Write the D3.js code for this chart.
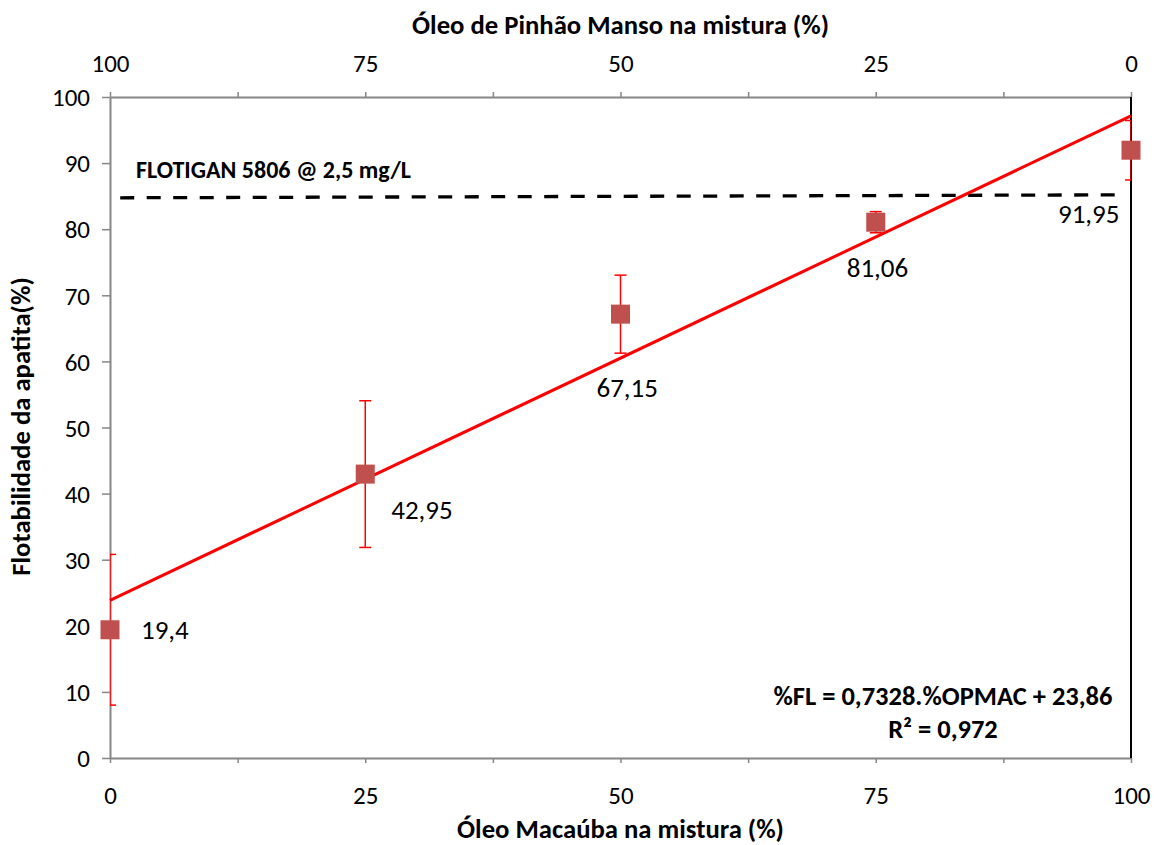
<!DOCTYPE html>
<html>
<head>
<meta charset="utf-8">
<script src="https://cdn.jsdelivr.net/npm/d3@7"></script>
<style>
  body { margin: 0; background: #fff; }
  text { font-family: Carlito, Calibri, Lato, "Open Sans", sans-serif; }
</style>
</head>
<body>
<div id="chart"></div>
<script>
// data
const macauba = [0, 25, 50, 75, 100]
const flotab = [19.4, 42.95, 67.15, 81.06, 91.95]
const errs = [11.4, 11.1, 5.9, 1.6, 4.5]
const dataLabels = ['19,4', '42,95', '67,15', '81,06', '91,95']
const bottomTicks = [0, 25, 50, 75, 100]
const topTicks = [100, 75, 50, 25, 0]
const yTicks = [0, 10, 20, 30, 40, 50, 60, 70, 80, 90, 100]
const minorTicks = [0, 12.5, 25, 37.5, 50, 62.5, 75, 87.5, 100]
// reference line (FLOTIGAN)
const refX = [1, 99.4]
const refY = [84.75, 85.2]
// trend %FL = 0,7328.%OPMAC + 23,86
const slope = 0.7328
const intercept = 23.86

const width = 1154
const height = 845
const margin = { top: 97, right: 23, bottom: 87, left: 110 }
const plotW = width - margin.left - margin.right
const plotH = height - margin.top - margin.bottom

const gray = '#868686'
const markerColor = '#c0504d'

const svg = d3.select('#chart').append('svg')
  .attr('width', width)
  .attr('height', height)

const x = d3.scaleLinear().domain([0, 100]).range([0, plotW])
const xTop = d3.scaleLinear().domain([100, 0]).range([0, plotW])
const y = d3.scaleLinear().domain([0, 100]).range([plotH, 0])

const g = svg.append('g').attr('transform', `translate(${margin.left},${margin.top})`)

svg.append('defs').append('clipPath').attr('id', 'plot-clip')
  .append('rect').attr('x', 0).attr('y', 0).attr('width', plotW).attr('height', plotH)

// axes
const leftAxis = g.append('g')
  .call(d3.axisLeft(y).tickValues(yTicks).tickSize(8).tickSizeOuter(0))
leftAxis.selectAll('text').attr('font-size', 25).attr('fill', '#000').attr('x', -20).attr('dy', '0.35em')

const bottomAxis = g.append('g').attr('transform', `translate(0,${plotH})`)
  .call(d3.axisBottom(x).tickValues(minorTicks).tickSize(5).tickSizeOuter(0).tickFormat(d => bottomTicks.includes(d) ? d : ''))
bottomAxis.selectAll('text').attr('font-size', 25).attr('fill', '#000').attr('y', 37).attr('dy', '0.35em')

const topAxis = g.append('g')
  .call(d3.axisTop(xTop).tickValues(minorTicks).tickSize(5).tickSizeOuter(0).tickFormat(d => topTicks.includes(d) ? d : ''))
topAxis.selectAll('text').attr('font-size', 25).attr('fill', '#000').attr('y', -34).attr('dy', '0.35em')

g.selectAll('.domain').attr('stroke', gray).attr('stroke-width', 2)
g.selectAll('.tick line').attr('stroke', gray).attr('stroke-width', 1.5)
g.selectAll('.tick text').attr('font-family', 'Carlito, Calibri, Lato, sans-serif')

// right axis (black)
g.append('line')
  .attr('x1', plotW).attr('x2', plotW)
  .attr('y1', 0).attr('y2', plotH)
  .attr('stroke', '#000').attr('stroke-width', 2)

// reference dashed line
g.append('line')
  .attr('x1', x(refX[0])).attr('y1', y(refY[0]))
  .attr('x2', x(refX[1])).attr('y2', y(refY[1]))
  .attr('stroke', '#000').attr('stroke-width', 3.3)
  .attr('stroke-dasharray', '14,12.5')

g.append('text')
  .attr('x', 26).attr('y', 81)
  .attr('font-size', 24).attr('font-weight', 'bold')
  .text('FLOTIGAN 5806 @ 2,5 mg/L')

// trend line
g.append('line')
  .attr('x1', x(0)).attr('y1', y(intercept))
  .attr('x2', x(100)).attr('y2', y(intercept + slope * 100))
  .attr('stroke', '#ff0000').attr('stroke-width', 3)

// error bars
const eb = g.append('g').attr('clip-path', 'url(#plot-clip)')
  .selectAll('g').data(macauba).join('g')
eb.append('line')
  .attr('x1', d => x(d)).attr('x2', d => x(d))
  .attr('y1', (d, i) => y(flotab[i] + errs[i]))
  .attr('y2', (d, i) => y(flotab[i] - errs[i]))
  .attr('stroke', '#ff0000').attr('stroke-width', 1.5)
eb.selectAll('line.cap')
  .data((d, i) => [{ x: d, v: flotab[i] + errs[i] }, { x: d, v: flotab[i] - errs[i] }])
  .join('line').attr('class', 'cap')
  .attr('x1', d => x(d.x) - 6).attr('x2', d => x(d.x) + 6)
  .attr('y1', d => y(d.v)).attr('y2', d => y(d.v))
  .attr('stroke', '#ff0000').attr('stroke-width', 1.5)

// markers
g.append('g').selectAll('rect').data(macauba).join('rect')
  .attr('x', d => x(d) - 9.5)
  .attr('y', (d, i) => y(flotab[i]) - 9.5)
  .attr('width', 19).attr('height', 19)
  .attr('fill', markerColor)

// data labels
const labelOffsets = [[31, 9], [26, 45], [-24, 83], [-29, 55], [-73, 73]]
g.append('g').selectAll('text').data(macauba).join('text')
  .attr('x', (d, i) => x(d) + labelOffsets[i][0])
  .attr('y', (d, i) => y(flotab[i]) + labelOffsets[i][1])
  .attr('font-size', 27)
  .text((d, i) => dataLabels[i])

// equation
g.append('text')
  .attr('x', 833).attr('y', 608)
  .attr('text-anchor', 'middle')
  .attr('font-size', 26.5).attr('font-weight', 'bold')
  .text('%FL = 0,7328.%OPMAC + 23,86')
g.append('text')
  .attr('x', 833).attr('y', 641)
  .attr('text-anchor', 'middle')
  .attr('font-size', 26.5).attr('font-weight', 'bold')
  .text('R² = 0,972')

// axis titles
svg.append('text')
  .attr('x', margin.left + plotW / 2).attr('y', 838)
  .attr('text-anchor', 'middle')
  .attr('font-size', 26.7).attr('font-weight', 'bold')
  .text('Óleo Macaúba na mistura (%)')
svg.append('text')
  .attr('x', margin.left + plotW / 2).attr('y', 34)
  .attr('text-anchor', 'middle')
  .attr('font-size', 26.7).attr('font-weight', 'bold')
  .text('Óleo de Pinhão Manso na mistura (%)')
svg.append('text')
  .attr('transform', `translate(30,${margin.top + plotH / 2 - 1}) rotate(-90)`)
  .attr('text-anchor', 'middle')
  .attr('font-size', 26.7).attr('font-weight', 'bold')
  .text('Flotabilidade da apatita(%)')
</script>
</body>
</html>
